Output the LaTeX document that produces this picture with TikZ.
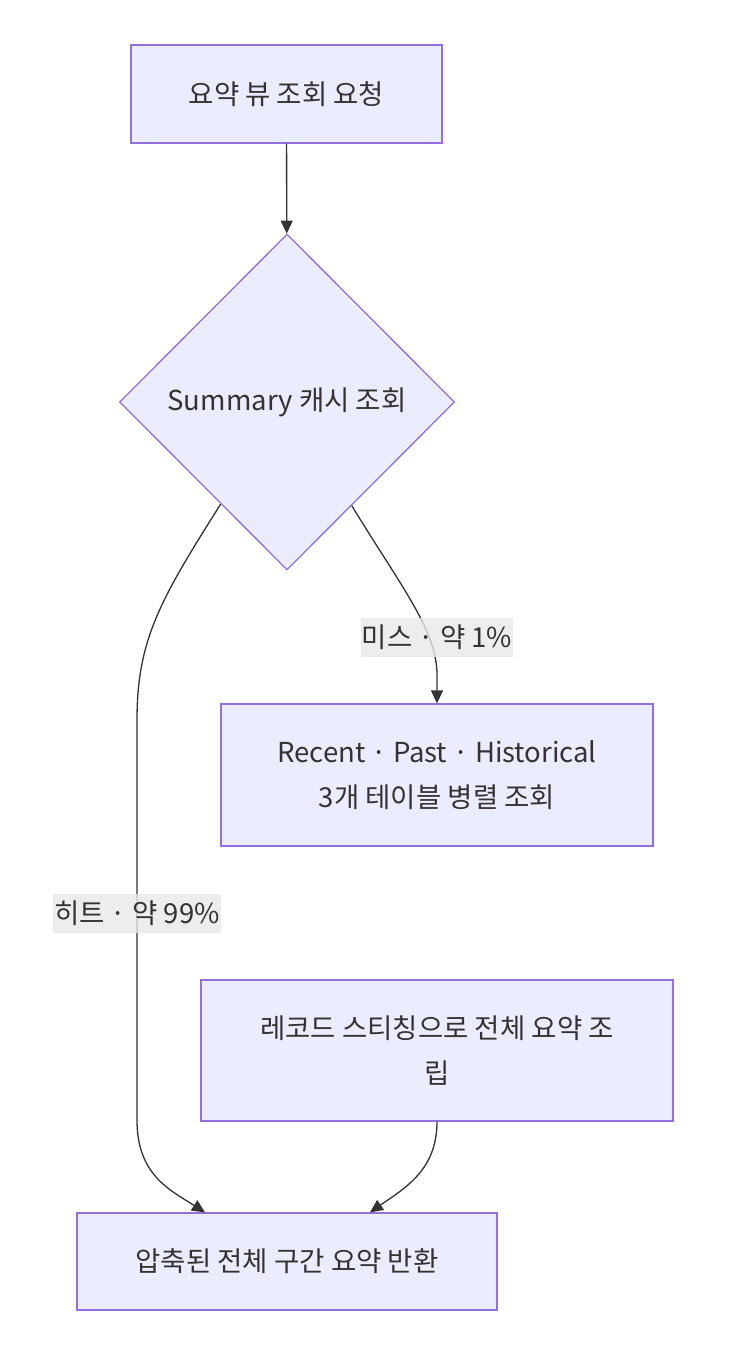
\documentclass[tikz,border=0pt]{standalone}
\usepackage{fontspec}
\setmainfont{Noto Sans CJK KR}
\usetikzlibrary{shapes.geometric,arrows.meta}
\definecolor{boxfill}{HTML}{ECECFF}
\definecolor{boxline}{HTML}{9370DB}
\definecolor{ink}{HTML}{333333}
\definecolor{lblfill}{HTML}{E8E8E8}
\tikzset{
	stepbox/.style={draw=boxline,fill=boxfill,line width=1.3pt,text=ink,align=center,inner sep=0pt},
	choice/.style={diamond,draw=boxline,fill=boxfill,line width=1.3pt,text=ink,inner sep=0pt,minimum width=335pt,minimum height=336pt},
	edge/.style={draw=ink,line width=1.3pt,-{Triangle[length=13pt,width=12pt]}},
	edgelbl/.style={fill=lblfill,fill opacity=0.8,text opacity=1,text=ink,inner xsep=1pt,inner ysep=3pt,minimum height=39pt}
}
\begin{document}
\begin{tikzpicture}[x=1pt,y=-1pt,font=\fontsize{27.5}{45}\selectfont]
		\useasboundingbox (0,0) rectangle (738,1366);
		%% boxes
		\node[stepbox,minimum width=311pt,minimum height=98pt] (req) at (286.5,94) {요약 뷰 조회 요청};
		\node[choice] (cache) at (287,402) {Summary 캐시 조회};
		\node[stepbox,minimum width=432pt,minimum height=142pt] (tables) at (437,775) {Recent · Past · Historical\\3개 테이블 병렬 조회};
		\node[stepbox,minimum width=472pt,minimum height=141pt] (stitch) at (437,1050.5) {레코드 스티칭으로 전체 요약 조\\립};
		\node[stepbox,minimum width=420pt,minimum height=97pt] (ret) at (287,1261.5) {압축된 전체 구간 요약 반환};
		%% edges
		\coordinate (missat) at (437,637);
		\coordinate (hitat) at (137,913);
		\draw[edge] (req) -- (cache);
		\draw[edge] (cache.302) .. controls (400,585) and (437,630) .. (437,675) -- (tables.north);
		\draw[edge] (cache.237) .. controls (160,600) and (137,640) .. (137,720) -- (hitat) -- (137,1120) .. controls (137,1175) and (170,1190) .. ([xshift=-82pt]ret.north);
		\draw[edge] (stitch.south) .. controls (437,1170) and (405,1188) .. ([xshift=83pt]ret.north);
		%% labels
		\node[edgelbl] (miss) at (missat) {미스 · 약 1\%};
		\node[edgelbl] (hit) at (hitat) {히트 · 약 99\%};
	\end{tikzpicture}
\end{document}
